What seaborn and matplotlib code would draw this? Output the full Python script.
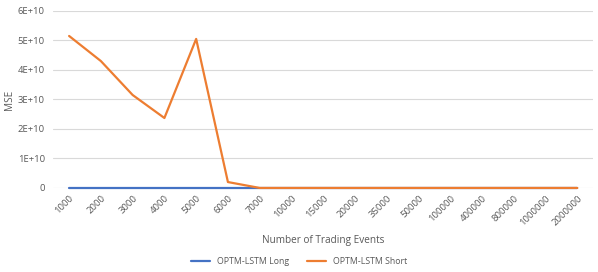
import numpy as np
import pandas as pd
import matplotlib
matplotlib.use("Agg")
import matplotlib.pyplot as plt
import seaborn as sns
from matplotlib.ticker import FuncFormatter

# data
events = ["1000", "2000", "3000", "4000", "5000", "6000", "7000", "10000", "15000",
          "20000", "35000", "50000", "100000", "400000", "800000", "1000000", "2000000"]
mse_long = [0] * len(events)
mse_short = [5.15e10, 4.3e10, 3.15e10, 2.37e10, 5.05e10, 0.2e10, 0, 0, 0,
             0, 0, 0, 0, 0, 0, 0, 0]

sns.set_theme(style="white")
plt.rcParams['font.family'] = ['Open Sans', 'DejaVu Sans']

pos = np.arange(len(events))
df = pd.DataFrame({
    "pos": np.concatenate([pos, pos]),
    "MSE": mse_long + mse_short,
    "Model": ["OPTM-LSTM Long"] * len(events) + ["OPTM-LSTM Short"] * len(events),
})

fig = plt.figure(figsize=(5.98, 2.72), dpi=100)
ax = fig.add_axes([0.089, 0.309, 0.903, 0.651])

sns.lineplot(data=df, x="pos", y="MSE", hue="Model",
             palette={"OPTM-LSTM Long": "#4472C4", "OPTM-LSTM Short": "#ED7D31"},
             linewidth=1.6, ax=ax, legend=True)
for ln in ax.lines:
    ln.set_clip_on(False)

ax.set_xlim(-0.5, len(events) - 0.5)
ax.set_ylim(0, 6e10)
ax.set_yticks(np.arange(0, 6.01e10, 1e10))
ax.yaxis.set_major_formatter(FuncFormatter(lambda v, p: "0" if v == 0 else f"{int(round(v / 1e10))}E+10"))
ax.set_xticks(pos)
ax.set_xticklabels(events, rotation=45, ha="right", rotation_mode="anchor")
ax.tick_params(axis="both", labelsize=6.8, colors="#595959", length=0)
ax.tick_params(axis="x", pad=4)
ax.tick_params(axis="y", pad=6)
ax.grid(axis="y", color="#D9D9D9", linewidth=0.8)
ax.set_axisbelow(True)
for s in ax.spines.values():
    s.set_visible(False)

ax.set_xlabel("Number of Trading Events", fontsize=7.2, color="#595959", labelpad=6)
ax.set_ylabel("MSE", fontsize=7.2, color="#595959", labelpad=2)

handles, labels = ax.get_legend_handles_labels()
ax.get_legend().remove()
fig.legend(handles, labels, loc="center", bbox_to_anchor=(0.5, 0.037), ncol=2, frameon=False,
           fontsize=6.3, labelcolor="#595959", handlelength=2.2, columnspacing=2)

fig.savefig("out.png", dpi=100)
